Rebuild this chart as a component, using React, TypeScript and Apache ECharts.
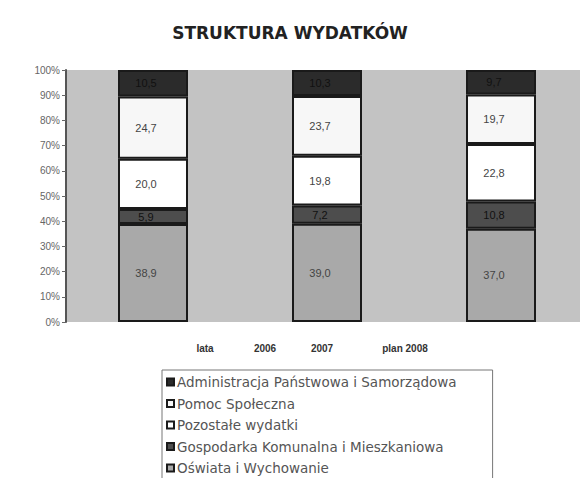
import React, { useEffect, useRef } from "react";
import * as echarts from "echarts";

const years = ["2006", "2007", "plan 2008"];
const axisCaption = "lata";
const seriesNames = [
  "Oświata i Wychowanie",
  "Gospodarka Komunalna i Mieszkaniowa",
  "Pozostałe wydatki",
  "Pomoc Społeczna",
  "Administracja Państwowa i Samorządowa",
];
const oswiata = [38.9, 39.0, 37.0];
const gospodarka = [5.9, 7.2, 10.8];
const pozostale = [20.0, 19.8, 22.8];
const pomoc = [24.7, 23.7, 19.7];
const administracja = [10.5, 10.3, 9.7];
const yTicks = [0, 10, 20, 30, 40, 50, 60, 70, 80, 90, 100];

const colors = ["#a9a9a9", "#4d4d4d", "#ffffff", "#f7f7f7", "#2b2b2b"];
const values = [oswiata, gospodarka, pozostale, pomoc, administracja];

export default function App() {
  const ref = useRef<HTMLDivElement>(null);
  useEffect(() => {
    if (!ref.current) return;
    const chart = echarts.init(ref.current, undefined, { renderer: "svg" });
    const font = "Liberation Sans, Arial, sans-serif";
    const labelXs = [205, 265, 322, 405];
    const bottomLabels = [axisCaption, ...years];
    chart.setOption({
      animation: false,
      backgroundColor: "#ffffff",
      title: {
        text: "STRUKTURA WYDATKÓW",
        left: "center",
        top: 19,
        textStyle: {
          fontFamily: "DejaVu Sans, sans-serif",
          fontWeight: "bold",
          fontSize: 17,
          color: "#222",
        },
      },
      legend: {
        orient: "vertical",
        left: 162,
        top: 370,
        height: 200,
        data: seriesNames.slice().reverse(),
        itemWidth: 7,
        itemHeight: 7,
        itemGap: 7.5,
        padding: [5, 36, 8, 4],
        borderColor: "#777",
        borderWidth: 1,
        icon: "rect",
        textStyle: { fontFamily: "DejaVu Sans, sans-serif", fontSize: 13.5, color: "#555", padding: [0, 0, 0, -2] },
      },
      grid: {
        left: 66,
        top: 70,
        width: 522,
        height: 252,
        outerBoundsMode: "none",
        containLabel: false,
        backgroundColor: "#c3c3c3",
        show: true,
        borderWidth: 0,
      },
      xAxis: {
        type: "category",
        data: years,
        axisLine: { show: false },
        axisTick: { show: false },
        axisLabel: { show: false },
      },
      yAxis: {
        type: "value",
        min: 0,
        max: 100,
        interval: 10,
        splitLine: { show: false },
        axisLine: { show: true, lineStyle: { color: "#555", width: 2 } },
        axisTick: { show: true, length: 4, lineStyle: { color: "#666" } },
        axisLabel: {
          formatter: (v: number) => (yTicks.includes(v) ? v + "%" : ""),
          fontFamily: font,
          fontSize: 10,
          color: "#666",
          margin: 6,
        },
      },
      graphic: bottomLabels.map((t, i) => ({
        type: "text",
        x: labelXs[i],
        y: 348,
        style: {
          text: t,
          fontFamily: font,
          fontWeight: "bold",
          fontSize: 10,
          fill: "#333",
          textAlign: "center",
          textVerticalAlign: "middle",
        },
      })),
      series: seriesNames.map((name, i) => ({
        name,
        type: "bar",
        stack: "total",
        barWidth: 70,
        data: values[i],
        itemStyle: { color: colors[i], borderColor: "#1a1a1a", borderWidth: 2 },
        label: {
          show: true,
          position: "inside",
          offset: [-7, 0],
          formatter: (p: any) => Number(p.value).toFixed(1).replace(".", ","),
          fontFamily: font,
          fontSize: 11,
          color: i === 1 || i === 4 ? "#111" : "#444",
        },
      })),
    });
    return () => chart.dispose();
  }, []);
  return (
    <div
      ref={ref}
      style={{ position: "fixed", left: 0, top: 0, width: 580, height: 478 }}
    />
  );
}
